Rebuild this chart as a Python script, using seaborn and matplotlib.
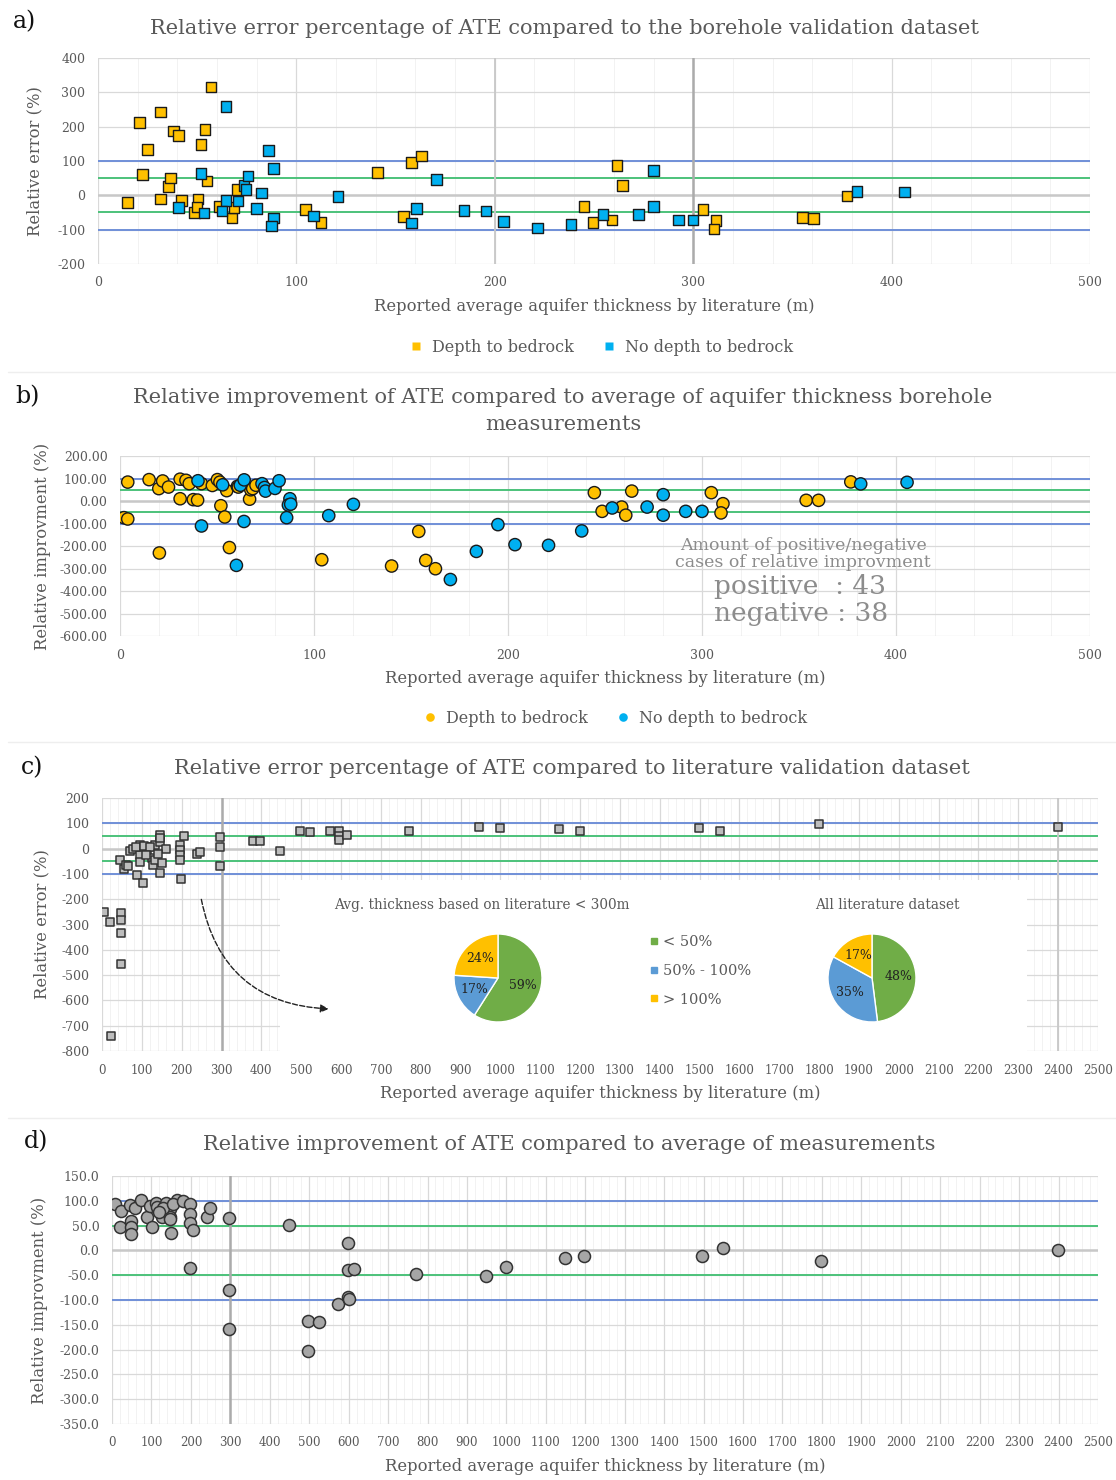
import numpy as np
import pandas as pd
import matplotlib
matplotlib.use("Agg")
import matplotlib.pyplot as plt
import seaborn as sns
from matplotlib.patches import Rectangle
from matplotlib.lines import Line2D
from matplotlib.ticker import MultipleLocator, FormatStrFormatter

sns.set_theme(style="white")
plt.rcParams['font.family'] = ['DejaVu Serif']

# --- data: panel a (relative error vs borehole dataset) ---
a_depth_x = [15, 21, 22.5, 25, 31.5, 31.5, 35.5, 36.5, 38, 40.5, 42, 48.5, 50.5, 50, 52, 54, 55, 57,
             61, 67.5, 68.5, 70, 104.5, 112.5, 141, 158, 163, 154, 245, 249.5, 261.5, 264.5, 259,
             305, 311.5, 310.5, 355, 360.5, 377.5]
a_depth_y = [-21, 212, 60, 134, 243, -11, 26, 50, 187, 175, -15, -50, -11, -34, 148, 191, 42, 316,
             -32, -66, -36, 17, -41, -79, 66, 95, 114, -61, -32, -79, 87, 28, -72,
             -42, -73, -98, -65, -67, -2]
a_nodepth_x = [40.5, 52, 53.5, 64.5, 64.5, 62.5, 70.5, 73.5, 74.5, 75.5, 80, 82.5, 86, 88.5, 88.5,
               87.5, 108.5, 121, 170.5, 160.5, 158, 184.5, 195.5, 204.5, 221.5, 238.5, 254.5,
               272.5, 280, 280, 292.5, 300, 382.5, 406.5]
a_nodepth_y = [-36, 63, -52, 259, -15, -46, -17, 29, 17, 56, -39, 7, 131, 78, -66,
               -89, -60, -3, 46, -39, -80, -44, -46, -76, -95, -85, -55,
               -56, 73, -32, -72, -72, 12, 10]

# --- data: panel b (relative improvement vs borehole average) ---
b_depth_x = [2, 4, 4, 15, 20, 22, 25, 20.3, 31, 31, 34, 35.7, 37.8, 40, 42, 47.6, 50.2, 51.5, 52,
             54, 55, 56.4, 60.5, 61, 66.8, 67.4, 68.4, 70.1, 104, 140, 154, 157.6, 162.6, 244.5,
             248.5, 258.6, 260.7, 263.8, 304.8, 310.8, 309.8, 353.7, 360.1, 376.7]
b_depth_y = [-74, -80, 84, 95, 55, 89, 62, -231, 97, 10, 92, 77, 6, 4, 77, 69, 95, 84, -21,
             -71, 46, -207, 65, 62, 8, 50, 55, 70, -261, -289, -135, -264, -301, 37,
             -46, -27, -63, 44, 37, -12, -53, 3, 3, 85]
b_nodepth_x = [40.2, 42, 52.9, 60, 62, 64, 63.9, 73.2, 74.5, 75, 79.9, 82, 85.9, 87.6, 86.8, 88,
               107.6, 120.3, 170.3, 183.7, 194.8, 203.6, 220.9, 238, 253.7, 271.7, 280, 280,
               291.6, 300, 381.8, 405.7]
b_nodepth_y = [90, -111, 72, -286, 70, 94, -91, 77, 60, 44, 56, 90, -74, 10, -18, -14,
               -65, -15, -349, -224, -105, -194, -197, -133, -31, -27, 28, -63,
               -46, -46, 76, 83]

# --- data: panel c (relative error vs literature dataset) ---
c_x = [5, 20, 47, 47, 47, 47, 22, 45, 55, 60, 66, 87, 102, 70, 79, 95, 95, 95, 112, 116, 125, 129,
       133, 133, 146, 146, 146, 146, 160, 85, 105, 120, 140, 110, 150, 196, 196, 196, 196, 198,
       207, 238, 246, 296, 296, 296, 380, 397, 447, 497, 522, 572, 596, 596, 596, 614, 770, 947,
       999, 1148, 1199, 1499, 1550, 1800, 2399]
c_y = [-251, -289, -255, -281, -332, -456, -739, -47, -80, -65, -68, -104, -137, -9, -2, 15, -25,
       -52, -12, 8, -38, -65, 15, -45, 54, 27, 41, -95, -2, 5, 10, 5, -20, -25, -55, 15, -5, -25,
       -45, -120, 48, -21, -12, 44, 8, -69, 31, 30, -9, 71, 65, 71, 71, 48, 35, 54, 71, 87,
       80, 76, 71, 80, 71, 96, 84]

pie_labels = ["< 50%", "50% - 100%", "> 100%"]
pie_lt300 = [59, 17, 24]
pie_all = [48, 35, 17]

# --- data: panel d (relative improvement vs literature average) ---
d_x = [7, 23, 20, 46, 48, 48, 48, 58, 74, 88, 96, 102, 112, 115, 126, 136, 147, 147, 147, 149, 164,
       130, 120, 155, 180, 198, 198, 198, 206, 198, 240, 248, 297, 297, 297, 448, 498, 525, 498,
       572, 598, 598, 614, 598, 600, 771, 948, 998, 1148, 1196, 1496, 1548, 1798, 2398]
d_y = [94, 80, 47, 91, 60, 47, 33, 86, 101, 68, 89, 47, 96, 88, 68, 95, 84, 68, 63, 36, 101,
       85, 78, 93, 99, 94, 74, 55, 41, -36, 68, 85, 65, -79, -158, 52, -142, -144, -203,
       -108, 15, -40, -37, -93, -98, -48, -51, -34, -15, -11, -11, 5, -21, 0]

YEL = '#FFC000'
BLU = '#00B0F0'
TXT = '#595959'
XLAB = 'Reported average aquifer thickness by literature (m)'

fig = plt.figure(figsize=(11.16, 14.8), dpi=100)
W, H = 1116, 1480


def box(l, t, r, b):
    return [l / W, 1 - b / H, (r - l) / W, (b - t) / H]


def style(ax, xmax, xmajor, ymin, ymax, ymajor, yfmt='%d'):
    ax.set_xlim(0, xmax)
    ax.set_ylim(ymin, ymax)
    ax.xaxis.set_major_locator(MultipleLocator(xmajor))
    ax.xaxis.set_minor_locator(MultipleLocator(20))
    ax.yaxis.set_major_locator(MultipleLocator(ymajor))
    ax.yaxis.set_major_formatter(FormatStrFormatter(yfmt))
    ax.grid(True, which='major', axis='both', color='#D9D9D9', lw=0.9)
    ax.grid(True, which='minor', axis='x', color='#F2F2F2', lw=0.7)
    ax.set_axisbelow(True)
    for s in ax.spines.values():
        s.set_visible(False)
    ax.tick_params(which='both', length=0, labelsize=9, labelcolor=TXT, pad=9)


def ref_lines(ax):
    ax.axhline(0, color='#C8C8C8', lw=1.8, zorder=1)
    ax.axhline(50, color='#4CC27A', lw=1.4, zorder=1)
    ax.axhline(-50, color='#4CC27A', lw=1.4, zorder=1)
    ax.axhline(100, color='#7090D8', lw=1.4, zorder=1)
    ax.axhline(-100, color='#7090D8', lw=1.4, zorder=1)


def tidy_legend(ax):
    leg = ax.get_legend()
    for t in leg.get_texts():
        t.set_color(TXT)
    for h in leg.legend_handles:
        h.set_markeredgecolor('none')


grp_pal = {'Depth to bedrock': YEL, 'No depth to bedrock': BLU}

# --- a) ---
ax = fig.add_axes(box(98, 58, 1090, 264))
style(ax, 500, 100, -200, 400, 100)
ref_lines(ax)
ax.axvline(200, color='#C8C8C8', lw=1.3, zorder=1)
ax.axvline(300, color='#ABABAB', lw=1.8, zorder=1)
df_a = pd.DataFrame({'x': a_depth_x + a_nodepth_x, 'y': a_depth_y + a_nodepth_y,
                     'grp': ['Depth to bedrock'] * len(a_depth_x) + ['No depth to bedrock'] * len(a_nodepth_x)})
sns.scatterplot(data=df_a, x='x', y='y', hue='grp', palette=grp_pal, marker='s', s=58,
                edgecolor='#1a1a1a', linewidth=1.0, ax=ax, zorder=3)
sns.move_legend(ax, 'center', bbox_to_anchor=(0.503, -0.403), ncol=2, frameon=False, title=None,
                fontsize=11.5, handletextpad=0.0, columnspacing=1.2, markerscale=0.7)
tidy_legend(ax)
ax.set_xlabel(XLAB, fontsize=11.8, color=TXT, labelpad=6)
ax.set_ylabel('Relative error (%)', fontsize=11.8, color=TXT, labelpad=10)

# --- b) ---
ax = fig.add_axes(box(120, 456, 1090, 636))
style(ax, 500, 100, -600, 200, 100, '%.2f')
ref_lines(ax)
df_b = pd.DataFrame({'x': b_depth_x + b_nodepth_x, 'y': b_depth_y + b_nodepth_y,
                     'grp': ['Depth to bedrock'] * len(b_depth_x) + ['No depth to bedrock'] * len(b_nodepth_x)})
sns.scatterplot(data=df_b, x='x', y='y', hue='grp', palette=grp_pal, marker='o', s=78,
                edgecolor='#1a1a1a', linewidth=1.0, ax=ax, zorder=3)
sns.move_legend(ax, 'center', bbox_to_anchor=(0.506, -0.456), ncol=2, frameon=False, title=None,
                fontsize=11.5, handletextpad=0.0, columnspacing=1.2, markerscale=0.7)
tidy_legend(ax)
ax.set_xlabel(XLAB, fontsize=11.8, color=TXT, labelpad=6)
ax.set_ylabel('Relative improvment (%)', fontsize=11.8, color=TXT, labelpad=6)
fig.text(803 / W, 1 - 554 / H, 'Amount of positive/negative\ncases of relative improvment',
         ha='center', va='center', fontsize=12.5, color='#8C8C8C', linespacing=0.95)
fig.text(714 / W, 1 - 586 / H, 'positive  : 43', ha='left', va='center', fontsize=19, color='#8C8C8C')
fig.text(714 / W, 1 - 614 / H, 'negative : 38', ha='left', va='center', fontsize=19, color='#8C8C8C')

# --- c) ---
ax = fig.add_axes(box(102, 798, 1098, 1051))
style(ax, 2500, 100, -800, 200, 100)
ax.tick_params(axis='x', labelsize=8.5)
ref_lines(ax)
ax.axvline(300, color='#ABABAB', lw=1.8, zorder=1)
ax.axvline(2400, color='#C8C8C8', lw=1.3, zorder=1)
ax.add_patch(Rectangle((447, -800), 1875, 676, facecolor='white', edgecolor='none', zorder=1.5))
sns.scatterplot(x=c_x, y=c_y, marker='s', s=30, color='#BDBDBD', edgecolor='#333333',
                linewidth=1.1, ax=ax, zorder=3)
ax.annotate('', xy=(576, -634), xytext=(248, -190),
            arrowprops=dict(arrowstyle='-|>', ls='--', lw=1.0, color='#222222',
                            connectionstyle='arc3,rad=0.4'), zorder=4)
ax.set_xlabel(XLAB, fontsize=11.8, color=TXT, labelpad=6)
ax.set_ylabel('Relative error (%)', fontsize=11.8, color=TXT, labelpad=8)

pie_cols = ['#70AD47', '#5B9BD5', '#FFC000']
for cx, vals, title, tx in [(498, pie_lt300, 'Avg. thickness based on literature < 300m', 482),
                            (872, pie_all, 'All literature dataset', 887)]:
    pax = fig.add_axes(box(cx - 55, 978 - 55, cx + 55, 978 + 55))
    pax.pie(vals, colors=pie_cols, startangle=90, counterclock=False,
            autopct=lambda p: f'{p:.0f}%', pctdistance=0.6,
            wedgeprops=dict(edgecolor='white', linewidth=1),
            textprops=dict(fontsize=9, color='#222222'))
    pax.set_aspect('equal')
    fig.text(tx / W, 1 - 905 / H, title, ha='center', va='center', fontsize=9.8, color=TXT)
handles = [Line2D([0], [0], marker='s', ls='none', color=c, markersize=5) for c in pie_cols]
leg = fig.legend(handles, pie_labels, loc='center left', bbox_to_anchor=(634 / W, 1 - 971 / H),
                 frameon=False, fontsize=10.5, labelspacing=1.0, handletextpad=0.1, handlelength=1.0)
for t in leg.get_texts():
    t.set_color(TXT)

# --- d) ---
ax = fig.add_axes(box(112, 1176, 1098, 1424))
style(ax, 2500, 100, -350, 150, 50, '%.1f')
ax.tick_params(axis='x', labelsize=8.5)
ref_lines(ax)
ax.axvline(300, color='#ABABAB', lw=1.8, zorder=1)
sns.scatterplot(x=d_x, y=d_y, marker='o', s=75, color='#A6A6A6', edgecolor='#333333',
                linewidth=1.1, ax=ax, zorder=3)
ax.set_xlabel(XLAB, fontsize=11.8, color=TXT, labelpad=6)
ax.set_ylabel('Relative improvment (%)', fontsize=11.8, color=TXT, labelpad=8)

# --- titles and panel letters ---
fig.text(564 / W, 1 - 28 / H, 'Relative error percentage of ATE compared to the borehole validation dataset',
         ha='center', va='center', fontsize=15, color=TXT)
fig.text(563 / W, 1 - 411 / H,
         'Relative improvement of ATE compared to average of aquifer thickness borehole\nmeasurements',
         ha='center', va='center', fontsize=15, color=TXT, linespacing=1.5)
fig.text(572 / W, 1 - 768 / H, 'Relative error percentage of ATE compared to literature validation dataset',
         ha='center', va='center', fontsize=15, color=TXT)
fig.text(569 / W, 1 - 1145 / H, 'Relative improvement of ATE compared to average of measurements',
         ha='center', va='center', fontsize=15, color=TXT)
for lab, px, py in [('a)', 24, 22), ('b)', 28, 397), ('c)', 32, 768), ('d)', 36, 1142)]:
    fig.text(px / W, 1 - py / H, lab, ha='center', va='center', fontsize=17, color='#111111')

for py in [372, 742, 1118]:
    fig.add_artist(Line2D([8 / W, 1], [1 - py / H, 1 - py / H], color='#EEEEEE', lw=1))

fig.savefig('out.png', dpi=100, facecolor='white')
